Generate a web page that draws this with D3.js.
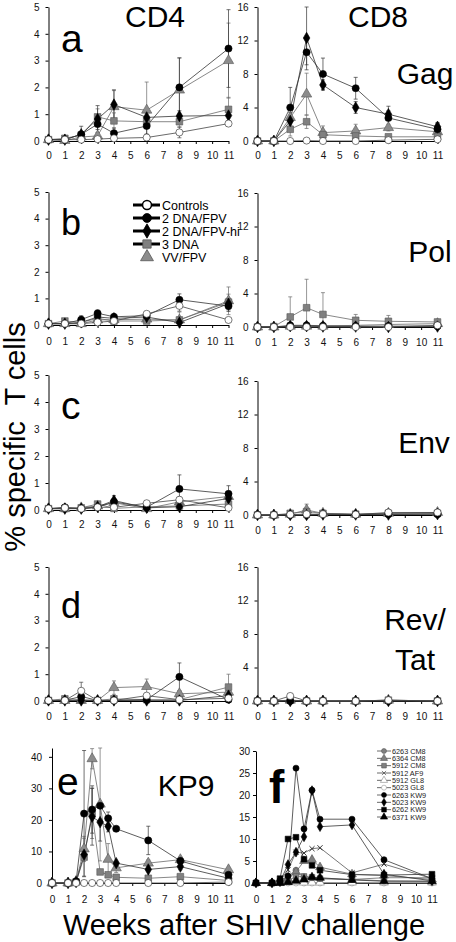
<!DOCTYPE html>
<html><head><meta charset="utf-8">
<script src="https://cdn.jsdelivr.net/npm/d3@7"></script>
<style>
body{margin:0;background:#fff}
svg{display:block}
text{font-family:"Liberation Sans",Arial,sans-serif}
</style>
</head><body>
<svg id="chart" width="456" height="942"></svg>
<script>
// ---------- DATA ----------
const weeks = [0,1,2,3,4,6,8,11];
const groups = ["Controls","2 DNA/FPV","2 DNA/FPV-hi","3 DNA","VV/FPV"];
const weekTicks = [0,1,2,3,4,5,6,7,8,9,10,11];
const cd4Ticks = [0,1,2,3,4,5];
const cd8Ticks = [0,4,8,12,16];
const kp9Ticks = [0,10,20,30,40];
const epiTicks = [0,5,10,15,20,25,30];

// order of rows: Controls, 2 DNA/FPV, 2 DNA/FPV-hi, 3 DNA, VV/FPV
const gagCD4 = [
  [0.05,0.05,0.05,0.07,0.10,0.13,0.32,0.65],
  [0.05,0.05,0.25,0.63,0.29,0.56,2.00,3.45],
  [0.05,0.05,0.25,0.82,1.36,0.88,0.93,0.95],
  [0.05,0.10,0.22,0.90,0.75,0.72,0.72,1.18],
  [0.05,0.02,0.15,0.19,1.28,1.15,1.90,3.00]];
const gagCD4Err = [
  [0,0,0,0,0,0,0.2,0.1],
  [0,0,0.3,0.2,0.2,0.3,1.1,1.45],
  [0,0,0.1,0.5,0.55,0.2,0.2,0.2],
  [0,0,0.05,0.3,0.3,0.2,0.2,0.45],
  [0,0,0.05,0.45,0.6,1.05,1.2,1.4]];
const gagCD8 = [
  [0,0,0,0.05,0,0,0.1,0.2],
  [0,0,4.0,10.6,8.0,6.3,2.75,1.4],
  [0,0,2.4,12.3,6.7,4.0,3.2,1.7],
  [0,0,1.4,2.3,0.75,0.6,0.5,0.5],
  [0,0,2.8,5.6,1.0,1.2,1.6,1.1]];
const gagCD8Err = [
  [0,0,0,0,0,0,0,0.1],
  [0,0,2.4,1.5,1.9,1.3,1.4,0.7],
  [0,0,0.5,3.8,0.6,0.7,0.4,0.5],
  [0,0,0.8,0.8,0.3,0.2,0.2,0.2],
  [0,0,0.6,2.5,0.8,0.8,0.4,0.4]];
const polCD4 = [
  [0.05,0.05,0.05,0.10,0.15,0.42,0.72,0.19],
  [0.05,0.05,0.20,0.44,0.31,0.35,0.95,0.71],
  [0.05,0.05,0.10,0.30,0.25,0.30,0.09,0.80],
  [0.05,0.15,0.10,0.25,0.15,0.15,0.19,0.86],
  [0.05,0.05,0.05,0.19,0.20,0.22,0.19,0.91]];
const polCD4Err = [
  [0,0,0,0,0,0.05,0.2,0.05],
  [0,0,0.15,0.12,0.1,0.1,0.22,0.2],
  [0,0,0,0.1,0.1,0.1,0.05,0.2],
  [0,0,0,0.05,0.05,0.05,0.05,0.3],
  [0,0,0,0.05,0.05,0.05,0.3,0.52]];
const polCD8 = [
  [0,0,0,0,0,0,0,0.2],
  [0,0,0.2,0.2,0.15,0.1,0.1,0.1],
  [0,0,0.1,0.1,0.05,0.05,0,0.05],
  [0,0.05,1.2,2.3,1.5,0.8,0.68,0.6],
  [0,0,0.1,0.1,0.1,0.2,0.3,0.4]];
const polCD8Err = [
  [0,0,0,0,0,0,0,0],
  [0,0,0,0,0,0,0,0],
  [0,0,0,0,0,0,0,0],
  [0,0,2.4,3.4,2.6,0.7,0.7,0.3],
  [0,0,0,0,0,0,0.2,0.2]];
const envCD4 = [
  [0.05,0.08,0.05,0.10,0.10,0.25,0.38,0.08],
  [0.05,0.10,0.05,0.10,0.30,0.10,0.78,0.60],
  [0.05,0.05,0.05,0.12,0.35,0.08,0.12,0.43],
  [0.05,0.05,0.08,0.22,0.06,0.12,0.15,0.22],
  [0.05,0.05,0.08,0.15,0.27,0.05,0.30,0.50]];
const envCD4Err = [
  [0,0,0,0,0,0,0.1,0],
  [0,0,0,0,0.1,0,0.52,0.3],
  [0,0,0,0,0.18,0,0,0.2],
  [0,0,0,0,0,0,0.1,0.1],
  [0,0,0,0,0.1,0,0.1,0.1]];
const envCD8 = [
  [0,0,0.05,0.1,0.1,0.05,0.3,0.3],
  [0,0,0,0,0.1,0.05,0.1,0.1],
  [0,0,0,0,0.05,0.05,0.05,0.1],
  [0,0,0.2,0.4,0.2,0.1,0.2,0.2],
  [0,0,0.1,0.6,0.2,0.1,0.2,0.3]];
const envCD8Err = [
  [0,0,0,0,0,0,0,0],
  [0,0,0,0,0,0,0,0],
  [0,0,0,0,0,0,0,0],
  [0,0,0,0.3,0,0,0,0],
  [0,0,0,0.7,0,0,0,0]];
const revCD4 = [
  [0.02,0.02,0.38,0.02,0.02,0.20,0.05,0.10],
  [0.02,0.02,0.17,0.02,0.02,0.05,0.90,0.05],
  [0.02,0.02,0.02,0.02,0.02,0.02,0.02,0.20],
  [0.02,0.08,0.05,0.02,0.08,0.05,0.05,0.52],
  [0.02,0.02,0.02,0.02,0.50,0.54,0.27,0.33]];
const revCD4Err = [
  [0,0,0.32,0,0,0,0,0],
  [0,0,0,0,0,0,0.52,0],
  [0,0,0,0,0,0,0,0],
  [0,0,0,0,0,0,0,0.48],
  [0,0,0,0,0.25,0.28,0.1,0.1]];
const revCD8 = [
  [0,0,0.6,0,0,0,0.1,0],
  [0,0,0,0,0,0,0,0],
  [0,0,0,0,0,0,0,0],
  [0,0,0.1,0,0,0,0.1,0],
  [0,0,0.1,0,0,0,0.1,0]];
const revCD8Err = [
  [0,0,0.3,0,0,0,0,0],
  [0,0,0,0,0,0,0,0],
  [0,0,0,0,0,0,0,0],
  [0,0,0,0,0,0,0,0],
  [0,0,0,0,0,0,0,0]];

const kp9Weeks = [0,1,1.5,2,2.5,3,3.5,4,6,8,11];
const kp9 = [
  [0,0,0,0,0,0,0,0,0,0,0.3],
  [0,0,0.5,22.0,23.3,24.5,20.5,17.2,13.5,7.0,2.6],
  [0,0,0.3,9.0,21.0,19.3,18.0,6.3,4.3,5.2,1.5],
  [0,0,0.3,8.2,22.1,3.5,2.6,1.8,1.5,2.0,0.8],
  [0,0,0.5,10.8,39.4,25.0,7.5,4.8,6.3,7.4,4.2]];
const kp9Err = [
  [0,0,0,0,0,0,0,0,0,0,0],
  [0,0,0,20,7.5,0,2,0,4.5,0.8,1],
  [0,0,0,0,9,6,1.8,0,2,1,0.5],
  [0,0,0,6,8,0,0,0,0.5,0.5,0],
  [0,0,0,4,3.2,18,5,1.5,1,0.8,0.5]];

const animals = ["6263 CM8","6364 CM8","5912 CM8","5912 AF9","5912 GL8",
                 "5023 GL8","6263 KW9","5023 KW9","6262 KW9","6371 KW9"];
const animalValues = [
  [0,0,0.2,1.5,2.9,1.4,1.2,1.0,0.8,0.5,0.4],
  [0,0,0.3,1.0,2.5,5.0,5.3,3.6,2.0,1.7,0.8],
  [0,0,0.3,0.5,1.5,1.5,1.3,1.0,0.8,1.2,1.2],
  [0,0,0.5,3.0,7.0,6.8,7.8,8.0,2.3,4.3,1.0],
  [0,0,0,0.3,0.2,0.1,0.1,0.1,0.1,0.1,0.1],
  [0,0,0,0,0,0,0,0,0,0,0],
  [0,0,0.5,1.6,26.1,12.3,21.1,14.5,14.5,5.3,1.0],
  [0,0,0.3,4.2,7.0,10.5,21.0,12.8,13.2,2.0,0.5],
  [0,0,1.0,10.0,10.4,5.4,4.0,2.9,1.9,1.8,2.0],
  [0,0,0,0.2,0.5,0.8,1.3,1.2,0.7,0.4,0.4]];

// ---------- STYLES ----------
const groupStyle = [
  {shape:"circle",  fill:"#fff",    stroke:"#222", line:"#444"},
  {shape:"circle",  fill:"#000",    stroke:"#000", line:"#333"},
  {shape:"diamond", fill:"#000",    stroke:"#000", line:"#333"},
  {shape:"square",  fill:"#808080", stroke:"#555", line:"#6a6a6a"},
  {shape:"triangle",fill:"#8c8c8c", stroke:"#555", line:"#6a6a6a"}];
const animalStyle = [
  {shape:"circle",  fill:"#808080", stroke:"#555", line:"#666"},
  {shape:"triangle",fill:"#808080", stroke:"#555", line:"#666"},
  {shape:"square",  fill:"#808080", stroke:"#555", line:"#666"},
  {shape:"x",       fill:"none",    stroke:"#333", line:"#555"},
  {shape:"triangle",fill:"#fff",    stroke:"#888", line:"#888"},
  {shape:"circle",  fill:"#fff",    stroke:"#999", line:"#999"},
  {shape:"circle",  fill:"#000",    stroke:"#000", line:"#333"},
  {shape:"diamond", fill:"#000",    stroke:"#000", line:"#333"},
  {shape:"square",  fill:"#000",    stroke:"#000", line:"#333"},
  {shape:"triangle",fill:"#000",    stroke:"#000", line:"#333"}];

const svg = d3.select("#chart");

function symbolPath(shape, k){
  if (shape === "x") {
    const r = 3*k;
    return `M${-r},${-r}L${r},${r}M${-r},${r}L${r},${-r}`;
  }
  const types = {circle:d3.symbolCircle, square:d3.symbolSquare, diamond:d3.symbolDiamond, triangle:d3.symbolTriangle};
  const sizes = {circle:40, square:44, diamond:38, triangle:46};
  return d3.symbol().type(types[shape]).size(sizes[shape]*k*k)();
}

function drawPanel(cfg){
  const g = svg.append("g");
  const x = d3.scaleLinear().domain([0,11]).range([cfg.x0, cfg.x1]);
  const y = d3.scaleLinear().domain([0,cfg.max]).range([cfg.y0, cfg.yTop]);
  const ya = g.append("g").attr("transform",`translate(${cfg.x0},0)`)
    .call(d3.axisLeft(y).tickValues(cfg.ticks).tickFormat(d3.format("d")).tickSize(3).tickSizeOuter(0).tickPadding(cfg.yPad));
  ya.select(".domain").attr("stroke","#000");
  ya.selectAll("text").attr("font-size",10).attr("font-family","Liberation Sans, Arial").attr("fill","#111");
  const xa = g.append("g").attr("transform",`translate(0,${cfg.y0})`)
    .call(d3.axisBottom(x).tickValues(weekTicks).tickFormat(d3.format("d")).tickSize(3).tickSizeOuter(0).tickPadding(cfg.xPad));
  xa.select(".domain").attr("stroke","#000");
  xa.selectAll("text").attr("font-size",10).attr("font-family","Liberation Sans, Arial").attr("fill","#111");

  const k = cfg.k || 1;
  const order = cfg.order || cfg.data.map((d,i)=>i);
  const line = d3.line().x(d=>x(d[0])).y(d=>y(d[1]));
  order.forEach(i=>{
    if (!cfg.err) return;
    const st = cfg.styles[i];
    cfg.data[i].forEach((v,j)=>{
      const e = cfg.err[i][j];
      if (!e) return;
      const xx = x(cfg.weeks[j]);
      const hi = Math.min(v+e, cfg.max);
      const lo = Math.max(v-e, 0);
      g.append("line").attr("x1",xx).attr("x2",xx).attr("y1",y(lo)).attr("y2",y(hi))
        .attr("stroke",st.line).attr("stroke-width",0.7);
      [hi, lo].forEach(b=>{
        g.append("line").attr("x1",xx-2).attr("x2",xx+2).attr("y1",y(b)).attr("y2",y(b))
          .attr("stroke",st.line).attr("stroke-width",0.7);
      });
    });
  });
  order.forEach(i=>{
    const st = cfg.styles[i];
    const pts = cfg.data[i].map((v,j)=>[cfg.weeks[j],v]).filter(p=>p[1]!=null);
    g.append("path").attr("d",line(pts)).attr("fill","none")
      .attr("stroke",st.line).attr("stroke-width",0.8);
  });
  order.forEach(i=>{
    const st = cfg.styles[i];
    cfg.data[i].forEach((v,j)=>{
      if (v==null) return;
      g.append("path").attr("d",symbolPath(st.shape,k))
        .attr("transform",`translate(${x(cfg.weeks[j])},${y(v)})`)
        .attr("fill",st.fill).attr("stroke",st.stroke).attr("stroke-width",st.shape==="x"?1:0.6);
    });
  });
}

const gOrder = [4,3,2,1,0];
const L = {x0:48.5, x1:228.5, yPad:6};
const R = {x0:257.5, x1:437.5, yPad:6};
drawPanel({...L, y0:141, yTop:7,   max:5,  ticks:cd4Ticks, xPad:8,  weeks, data:gagCD4, err:gagCD4Err, styles:groupStyle, order:gOrder});
drawPanel({...R, y0:141, yTop:7,   max:16, ticks:cd8Ticks, xPad:8,  weeks, data:gagCD8, err:gagCD8Err, styles:groupStyle, order:gOrder});
drawPanel({...L, y0:325, yTop:192, max:5,  ticks:cd4Ticks, xPad:10, weeks, data:polCD4, err:polCD4Err, styles:groupStyle, order:gOrder});
drawPanel({...R, y0:327, yTop:193, max:16, ticks:cd8Ticks, xPad:9,  weeks, data:polCD8, err:polCD8Err, styles:groupStyle, order:gOrder});
drawPanel({...L, y0:510, yTop:375, max:5,  ticks:cd4Ticks, xPad:8,  weeks, data:envCD4, err:envCD4Err, styles:groupStyle, order:gOrder});
drawPanel({...R, y0:515, yTop:381, max:16, ticks:cd8Ticks, xPad:9,  weeks, data:envCD8, err:envCD8Err, styles:groupStyle, order:gOrder});
drawPanel({...L, y0:701, yTop:567, max:5,  ticks:cd4Ticks, xPad:9,  weeks, data:revCD4, err:revCD4Err, styles:groupStyle, order:gOrder});
drawPanel({...R, y0:701, yTop:567, max:16, ticks:cd8Ticks, xPad:9,  weeks, data:revCD8, err:revCD8Err, styles:groupStyle, order:gOrder});
drawPanel({x0:52, x1:228.5, yPad:7, y0:883, yTop:748, max:42.8, ticks:kp9Ticks, xPad:10, weeks:kp9Weeks, data:kp9, err:kp9Err, styles:groupStyle, order:gOrder});
drawPanel({x0:256, x1:432, yPad:3, y0:883, yTop:751, max:30, ticks:epiTicks, xPad:10, weeks:kp9Weeks, data:animalValues, styles:animalStyle, k:0.85, order:[5,4,0,1,2,3,9,8,7,6]});

// ---------- TEXT ----------
function txt(s, x, y, size, opts={}){
  return svg.append("text").attr("x",x).attr("y",y).attr("font-size",size)
    .attr("text-anchor",opts.anchor||"middle").attr("font-weight",opts.weight||"normal")
    .attr("fill","#000").text(s);
}
txt("CD4", 155, 27, 30);
txt("CD8", 378, 27, 30);
txt("Gag", 425, 84, 30);
txt("Pol", 430, 262, 30);
txt("Env", 424, 453, 30);
txt("Rev/", 415, 630, 30);
txt("Tat", 415, 670, 30);
txt("KP9", 186, 796, 30);
txt("a", 61, 52, 39, {anchor:"start"});
txt("b", 61, 235, 36, {anchor:"start"});
txt("c", 61, 419, 39, {anchor:"start"});
txt("d", 61, 618, 36, {anchor:"start"});
txt("e", 57, 795, 39, {anchor:"start"});
txt("f", 269, 803, 46, {anchor:"start", weight:"bold"});
txt("Weeks after SHIV challenge", 244, 935, 29);
svg.append("text").attr("transform","translate(25,437) rotate(-90)")
  .attr("text-anchor","middle").attr("font-size",29).attr("fill","#000")
  .style("white-space","pre").text("% specific  T cells");

// ---------- LEGEND (panel b) ----------
const legY = d3.scalePoint().domain(groups).range([205,257]);
groups.forEach((gname,i)=>{
  const st = groupStyle[i];
  const yy = legY(gname);
  if (i < 4) {
    svg.append("line").attr("x1",133).attr("x2",160).attr("y1",yy).attr("y2",yy)
      .attr("stroke","#000").attr("stroke-width",3);
  }
  svg.append("path").attr("d",symbolPath(st.shape,1.25)).attr("transform",`translate(147,${yy})`)
    .attr("fill",st.fill).attr("stroke",i===0?"#000":st.stroke).attr("stroke-width",i===0?1.5:0.8);
  svg.append("text").attr("x",162).attr("y",yy).attr("dy","0.36em").attr("font-size",12.5)
    .attr("fill","#000").text(gname);
});

// ---------- LEGEND (panel f) ----------
const legF = d3.scalePoint().domain(animals).range([751,817]);
animals.forEach((a,i)=>{
  const st = animalStyle[i];
  const yy = legF(a);
  svg.append("line").attr("x1",377).attr("x2",391).attr("y1",yy).attr("y2",yy)
    .attr("stroke","#444").attr("stroke-width",0.8);
  svg.append("path").attr("d",symbolPath(st.shape,0.7)).attr("transform",`translate(384,${yy})`)
    .attr("fill",st.fill).attr("stroke",st.stroke).attr("stroke-width",0.6);
  svg.append("text").attr("x",392).attr("y",yy).attr("dy","0.36em").attr("font-size",7.3)
    .attr("fill","#222").text(a);
});
</script>
</body></html>
